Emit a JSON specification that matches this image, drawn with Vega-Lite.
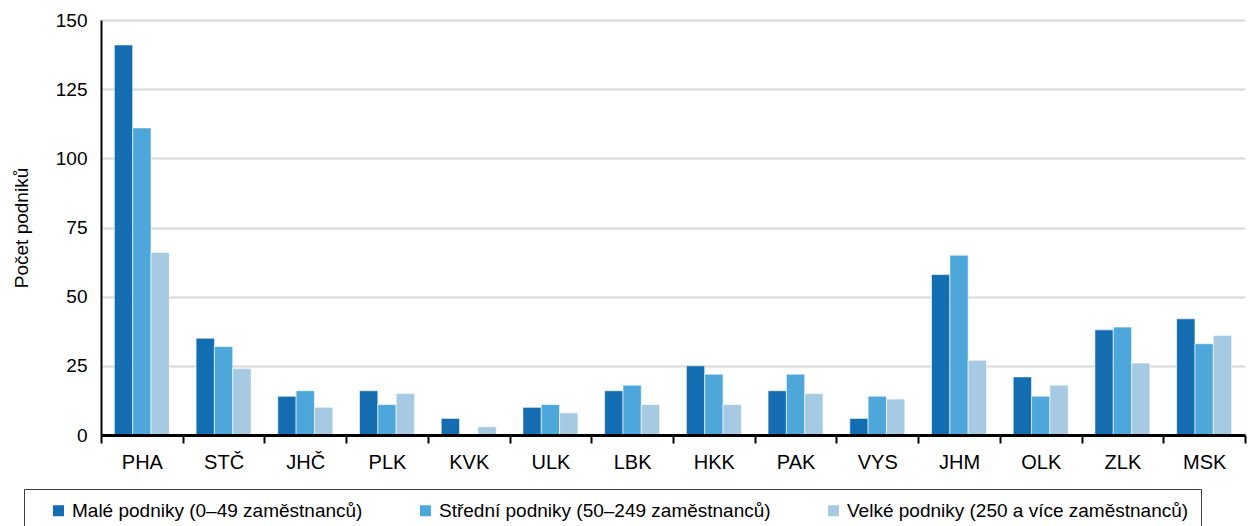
{
  "$schema": "https://vega.github.io/schema/vega-lite/v6.json",
  "autosize": "none",
  "width": 1144,
  "height": 415,
  "padding": {"left": 101, "top": 20, "right": 5, "bottom": 91},
  "background": "white",
  "config": {
    "font": "Liberation Sans",
    "view": {"stroke": null}
  },
  "data": {
    "values": [
      {"kraj": "PHA", "skupina": "Malé podniky (0–49 zaměstnanců)", "pocet": 141},
      {"kraj": "PHA", "skupina": "Střední podniky (50–249 zaměstnanců)", "pocet": 111},
      {"kraj": "PHA", "skupina": "Velké podniky (250 a více zaměstnanců)", "pocet": 66},
      {"kraj": "STČ", "skupina": "Malé podniky (0–49 zaměstnanců)", "pocet": 35},
      {"kraj": "STČ", "skupina": "Střední podniky (50–249 zaměstnanců)", "pocet": 32},
      {"kraj": "STČ", "skupina": "Velké podniky (250 a více zaměstnanců)", "pocet": 24},
      {"kraj": "JHČ", "skupina": "Malé podniky (0–49 zaměstnanců)", "pocet": 14},
      {"kraj": "JHČ", "skupina": "Střední podniky (50–249 zaměstnanců)", "pocet": 16},
      {"kraj": "JHČ", "skupina": "Velké podniky (250 a více zaměstnanců)", "pocet": 10},
      {"kraj": "PLK", "skupina": "Malé podniky (0–49 zaměstnanců)", "pocet": 16},
      {"kraj": "PLK", "skupina": "Střední podniky (50–249 zaměstnanců)", "pocet": 11},
      {"kraj": "PLK", "skupina": "Velké podniky (250 a více zaměstnanců)", "pocet": 15},
      {"kraj": "KVK", "skupina": "Malé podniky (0–49 zaměstnanců)", "pocet": 6},
      {"kraj": "KVK", "skupina": "Střední podniky (50–249 zaměstnanců)", "pocet": 0},
      {"kraj": "KVK", "skupina": "Velké podniky (250 a více zaměstnanců)", "pocet": 3},
      {"kraj": "ULK", "skupina": "Malé podniky (0–49 zaměstnanců)", "pocet": 10},
      {"kraj": "ULK", "skupina": "Střední podniky (50–249 zaměstnanců)", "pocet": 11},
      {"kraj": "ULK", "skupina": "Velké podniky (250 a více zaměstnanců)", "pocet": 8},
      {"kraj": "LBK", "skupina": "Malé podniky (0–49 zaměstnanců)", "pocet": 16},
      {"kraj": "LBK", "skupina": "Střední podniky (50–249 zaměstnanců)", "pocet": 18},
      {"kraj": "LBK", "skupina": "Velké podniky (250 a více zaměstnanců)", "pocet": 11},
      {"kraj": "HKK", "skupina": "Malé podniky (0–49 zaměstnanců)", "pocet": 25},
      {"kraj": "HKK", "skupina": "Střední podniky (50–249 zaměstnanců)", "pocet": 22},
      {"kraj": "HKK", "skupina": "Velké podniky (250 a více zaměstnanců)", "pocet": 11},
      {"kraj": "PAK", "skupina": "Malé podniky (0–49 zaměstnanců)", "pocet": 16},
      {"kraj": "PAK", "skupina": "Střední podniky (50–249 zaměstnanců)", "pocet": 22},
      {"kraj": "PAK", "skupina": "Velké podniky (250 a více zaměstnanců)", "pocet": 15},
      {"kraj": "VYS", "skupina": "Malé podniky (0–49 zaměstnanců)", "pocet": 6},
      {"kraj": "VYS", "skupina": "Střední podniky (50–249 zaměstnanců)", "pocet": 14},
      {"kraj": "VYS", "skupina": "Velké podniky (250 a více zaměstnanců)", "pocet": 13},
      {"kraj": "JHM", "skupina": "Malé podniky (0–49 zaměstnanců)", "pocet": 58},
      {"kraj": "JHM", "skupina": "Střední podniky (50–249 zaměstnanců)", "pocet": 65},
      {"kraj": "JHM", "skupina": "Velké podniky (250 a více zaměstnanců)", "pocet": 27},
      {"kraj": "OLK", "skupina": "Malé podniky (0–49 zaměstnanců)", "pocet": 21},
      {"kraj": "OLK", "skupina": "Střední podniky (50–249 zaměstnanců)", "pocet": 14},
      {"kraj": "OLK", "skupina": "Velké podniky (250 a více zaměstnanců)", "pocet": 18},
      {"kraj": "ZLK", "skupina": "Malé podniky (0–49 zaměstnanců)", "pocet": 38},
      {"kraj": "ZLK", "skupina": "Střední podniky (50–249 zaměstnanců)", "pocet": 39},
      {"kraj": "ZLK", "skupina": "Velké podniky (250 a více zaměstnanců)", "pocet": 26},
      {"kraj": "MSK", "skupina": "Malé podniky (0–49 zaměstnanců)", "pocet": 42},
      {"kraj": "MSK", "skupina": "Střední podniky (50–249 zaměstnanců)", "pocet": 33},
      {"kraj": "MSK", "skupina": "Velké podniky (250 a více zaměstnanců)", "pocet": 36}
    ]
  },
  "mark": {"type": "bar", "stroke": "white", "strokeWidth": 0.6},
  "encoding": {
    "x": {
      "field": "kraj",
      "type": "nominal",
      "sort": null,
      "scale": {"paddingInner": 0, "paddingOuter": 0},
      "axis": {
        "title": null,
        "zindex": 1,
        "labelAngle": 0,
        "labelFont": "Liberation Sans",
        "labelFontSize": 20,
        "labelColor": "#000000",
        "labelPadding": 9,
        "domainColor": "#000000",
        "domainWidth": 3,
        "tickColor": "#000000",
        "tickWidth": 2,
        "tickSize": 8,
        "tickBand": "extent",
        "grid": false
      }
    },
    "xOffset": {
      "field": "skupina",
      "type": "nominal",
      "sort": null,
      "scale": {"paddingInner": 0, "paddingOuter": 0.728}
    },
    "y": {
      "field": "pocet",
      "type": "quantitative",
      "scale": {"domain": [0, 150], "nice": false},
      "axis": {
        "title": "Počet podniků",
        "titleFont": "Liberation Sans",
        "titleFontSize": 19,
        "titleFontWeight": "normal",
        "titleColor": "#000000",
        "titlePadding": 24,
        "values": [0, 25, 50, 75, 100, 125, 150],
        "labelFont": "Liberation Sans",
        "labelFontSize": 19,
        "labelColor": "#000000",
        "labelPadding": 14,
        "ticks": false,
        "domainColor": "#000000",
        "domainWidth": 2,
        "grid": true,
        "gridColor": "#d9d9d9",
        "gridWidth": 2
      }
    },
    "color": {
      "field": "skupina",
      "type": "nominal",
      "sort": null,
      "scale": {
        "domain": ["Malé podniky (0–49 zaměstnanců)", "Střední podniky (50–249 zaměstnanců)", "Velké podniky (250 a více zaměstnanců)"],
        "range": ["#146cb1", "#4ea7da", "#a6cae4"]
      },
      "legend": {
        "title": " ",
        "titleOrient": "left",
        "titlePadding": 13,
        "orient": "none",
        "direction": "horizontal",
        "legendX": -77,
        "legendY": 469,
        "padding": 12,
        "strokeColor": "#404040",
        "symbolType": "square",
        "symbolSize": 121,
        "symbolStrokeWidth": 0,
        "labelFont": "Liberation Sans",
        "labelFontSize": 19,
        "labelColor": "#000000",
        "labelOffset": 4,
        "labelLimit": 500,
        "columnPadding": 53
      }
    }
  }
}
